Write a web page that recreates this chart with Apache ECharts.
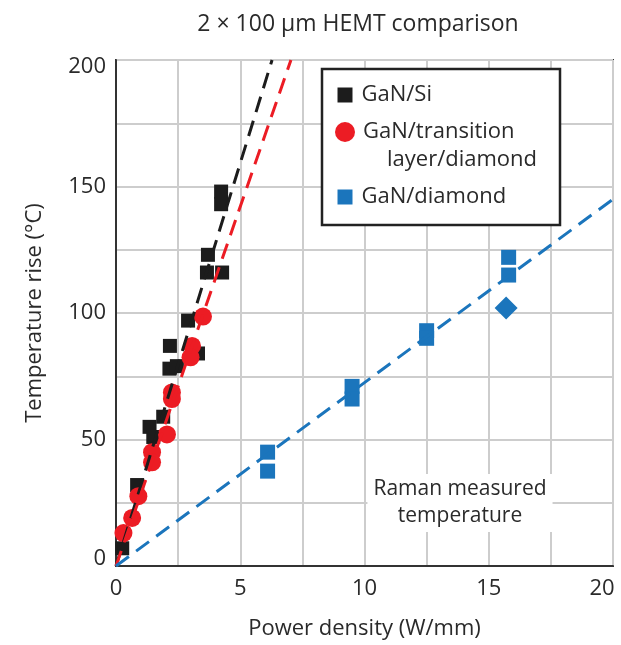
<!DOCTYPE html>
<html><head><meta charset="utf-8">
<script src="https://cdn.jsdelivr.net/npm/echarts@6/dist/echarts.min.js"></script>
<style>html,body{margin:0;padding:0;background:#fff}#c{width:621px;height:645px}</style>
</head><body><div id="c"></div>
<script>
// ---- data ----
const gaNSi = [[0.25,7],[0.85,32],[1.35,55],[1.5,51],[1.9,59],[2.15,78],[2.45,79],[2.17,87],[2.9,97],[3.3,84],[3.7,123],[3.66,116],[4.27,116],[4.23,148],[4.23,143]];
const gaNTransition = [[0.3,13],[0.65,19],[0.9,27.6],[1.45,45],[1.45,41],[2.05,52],[2.25,68.6],[2.25,66],[3.06,87],[3.0,82.5],[3.5,98.6]];
const gaNDiamond = [[6.1,45],[6.1,37.5],[9.5,71],[9.5,66],[12.5,93],[12.5,90],[15.8,122],[15.8,115]];
const gaNDiamondAlt = [[15.7,102]];
const fitSi = [[0,0],[6.28,200]];
const fitTransition = [[0,0],[7.04,200]];
const fitDiamond = [[0,0],[20,145]];
const xLabels = [0,5,10,15,20];
const yLabels = [0,50,100,150,200];
const seriesNames = ['GaN/Si','GaN/transition layer/diamond','GaN/diamond'];

const FONT = 'Open Sans';
const TXT = '#2a2a2a';
const C_BLACK = '#1c1c1c', C_RED = '#ec1c24', C_BLUE = '#1b75bc';

const chart = echarts.init(document.getElementById('c'));
const fs = 22;
const legendBase = {orient:'vertical', padding:0, z:6, itemGap:0,
  textStyle:{fontFamily:FONT, fontSize:fs, color:TXT, lineHeight:28, padding:[0,0,0,4]}};
chart.setOption({
  animation:false,
  title:{text:'2 × 100 μm HEMT comparison', left:353, top:8, textAlign:'center',
    textStyle:{fontFamily:FONT, fontSize:23, fontWeight:'normal', color:TXT}},
  grid:{left:116, top:60, right:8, bottom:78, show:true, borderColor:'#333', borderWidth:2},
  xAxis:{type:'value', min:0, max:20, interval:2.5,
    name:'Power density (W/mm)', nameLocation:'middle', nameGap:52,
    nameTextStyle:{fontFamily:FONT, fontSize:fs, color:TXT},
    axisLine:{show:true, lineStyle:{color:'#333', width:2}}, axisTick:{show:false},
    splitLine:{show:true, lineStyle:{color:'#cdcdcd', width:2}},
    axisLabel:{margin:12, fontFamily:FONT, fontSize:fs, color:TXT,
      formatter:v=> v===20 ? '{r|20}' : (xLabels.indexOf(v)>=0 ? String(v) : ''),
      rich:{r:{padding:[0,22,0,0], fontFamily:FONT, fontSize:fs, color:TXT}}}},
  yAxis:{type:'value', min:0, max:200, interval:25,
    name:'Temperature rise (°C)', nameLocation:'middle', nameGap:70,
    nameTextStyle:{fontFamily:FONT, fontSize:fs, color:TXT},
    axisLine:{show:true, lineStyle:{color:'#333', width:2}}, axisTick:{show:false},
    splitLine:{show:true, lineStyle:{color:'#cdcdcd', width:2}},
    axisLabel:{margin:10, fontFamily:FONT, fontSize:fs, color:TXT,
      formatter:v=> v===200 ? '{t|200}' : v===0 ? '{b|0}' : (yLabels.indexOf(v)>=0 ? String(v) : ''),
      rich:{t:{padding:[14,0,0,0], fontFamily:FONT, fontSize:fs, color:TXT},
            b:{padding:[0,0,14,0], fontFamily:FONT, fontSize:fs, color:TXT}}}},
  legend:[
    Object.assign({}, legendBase, {data:[{name:seriesNames[0], icon:'rect'}], left:337.5, top:81, itemWidth:15, itemHeight:15}),
    Object.assign({}, legendBase, {data:[{name:seriesNames[1], icon:'circle'}], left:335, top:90, itemWidth:20, itemHeight:20,
      formatter:()=>'{a|GaN/transition}\n{b|layer/diamond}',
      textStyle:{fontFamily:FONT, fontSize:fs, color:TXT, lineHeight:28, padding:[28,0,0,3],
        rich:{a:{fontFamily:FONT, fontSize:fs, color:TXT, lineHeight:28},
              b:{fontFamily:FONT, fontSize:fs, color:TXT, lineHeight:28, padding:[0,0,0,24]}}}}),
    Object.assign({}, legendBase, {data:[{name:seriesNames[2], icon:'rect'}], left:337.5, top:183, itemWidth:15, itemHeight:15})
  ],
  graphic:[
    {type:'rect', z:5, shape:{x:322, y:69, width:238, height:156},
      style:{fill:'#fff', stroke:'#222', lineWidth:2.5}},
    {type:'text', z:5, x:460, y:503,
      style:{text:'Raman measured\ntemperature', align:'center', verticalAlign:'middle',
        fontFamily:FONT, fontSize:21, lineHeight:27, fill:TXT, backgroundColor:'#fff', padding:[2,6]}}
  ],
  series:[
    {name:seriesNames[0], type:'scatter', data:gaNSi, symbol:'rect', symbolSize:14, itemStyle:{color:C_BLACK, opacity:1}, z:2},
    {name:seriesNames[1], type:'scatter', data:gaNTransition, symbol:'circle', symbolSize:18, itemStyle:{color:C_RED, opacity:1}, z:3},
    {name:seriesNames[2], type:'scatter', data:gaNDiamond, symbol:'rect', symbolSize:15, itemStyle:{color:C_BLUE, opacity:1}, z:3},
    {name:'GaN/diamond ', type:'scatter', data:gaNDiamondAlt, symbol:'diamond', symbolSize:23, itemStyle:{color:C_BLUE, opacity:1}, z:3},
    {name:'fit Si', type:'line', data:fitSi, symbol:'none', lineStyle:{color:C_BLACK, width:3, type:[16,9]}, z:4},
    {name:'fit transition', type:'line', data:fitTransition, symbol:'none', lineStyle:{color:C_RED, width:3, type:[16,9]}, z:4},
    {name:'fit diamond', type:'line', data:fitDiamond, symbol:'none', lineStyle:{color:C_BLUE, width:3, type:[16,9]}, z:4}
  ]
});
</script></body></html>
